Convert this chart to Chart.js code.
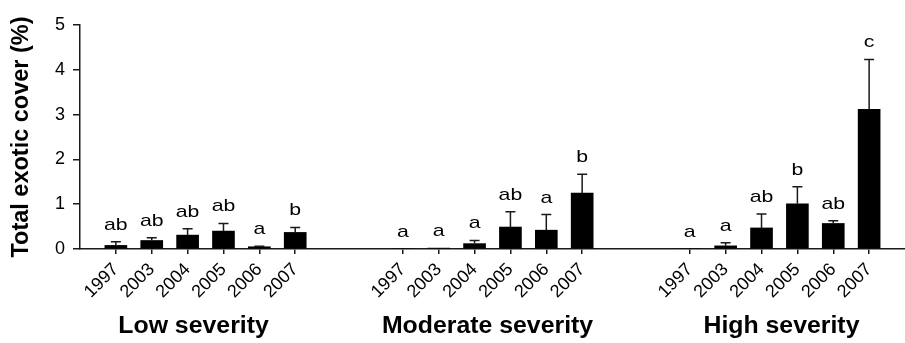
<!DOCTYPE html>
<html>
<head>
<meta charset="utf-8">
<script src="https://cdn.jsdelivr.net/npm/chart.js@4"></script>
<style>
  html, body { margin: 0; padding: 0; background: #fff; }
  #wrap { width: 905px; height: 343px; position: relative; }
</style>
</head>
<body>
<div id="wrap"><canvas id="chart-exotic"></canvas></div>
<script>
// values (mean and upper SE), per severity class
var years = ['1997', '2003', '2004', '2005', '2006', '2007'];
var groupNames = ['Low severity', 'Moderate severity', 'High severity'];

var lowMean = [0.08, 0.19, 0.31, 0.40, 0.05, 0.37];
var lowSE = [0.08, 0.06, 0.14, 0.17, 0.01, 0.11];
var lowLetters = ['ab', 'ab', 'ab', 'ab', 'a', 'b'];

var modMean = [0, 0.02, 0.12, 0.49, 0.42, 1.25];
var modSE = [0, 0, 0.07, 0.34, 0.35, 0.42];
var modLetters = ['a', 'a', 'a', 'ab', 'a', 'b'];

var highMean = [0, 0.07, 0.47, 1.01, 0.57, 3.12];
var highSE = [0, 0.07, 0.31, 0.38, 0.06, 1.11];
var highLetters = ['a', 'a', 'ab', 'b', 'ab', 'c'];

var yTicks = [0, 1, 2, 3, 4, 5];

// build one category axis with blank slots between the groups
var labels = [''];
var values = [null];
var errors = [null];
var letters = [null];
var groupIdx = [];
var groups = [[lowMean, lowSE, lowLetters], [modMean, modSE, modLetters], [highMean, highSE, highLetters]];
for (let g = 0; g < groups.length; g++) {
    if (g > 0) {
        labels.push('', '');
        values.push(null, null);
        errors.push(null, null);
        letters.push(null, null);
    }
    let idx = [];
    for (let i = 0; i < years.length; i++) {
        idx.push(labels.length);
        labels.push(years[i]);
        values.push(groups[g][0][i]);
        errors.push(groups[g][1][i]);
        letters.push(groups[g][2][i]);
    }
    groupIdx.push(idx);
}
labels.push('');
values.push(null);
errors.push(null);
letters.push(null);

var FONT = "'Liberation Sans', Arial, sans-serif";
var groupShift = [-12, -5, 2];

var annotate = {
    id: 'annotate',
    afterDatasetsDraw: function(chart) {
        var ctx = chart.ctx;
        var ys = chart.scales.y;
        var bars = chart.getDatasetMeta(0).data;
        ctx.save();
        ctx.strokeStyle = '#1a1a1a';
        ctx.lineWidth = 1.5;
        ctx.fillStyle = '#000';
        ctx.font = '17px ' + FONT;
        ctx.textAlign = 'center';
        ctx.textBaseline = 'alphabetic';
        for (let i = 0; i < values.length; i++) {
            if (values[i] === null) continue;
            var bx = bars[i].x;
            var top = values[i] + (errors[i] || 0);
            var yTop = ys.getPixelForValue(top);
            if (errors[i] > 0) {
                var yBar = ys.getPixelForValue(values[i]);
                ctx.beginPath();
                ctx.moveTo(bx, yBar);
                ctx.lineTo(bx, yTop);
                ctx.moveTo(bx - 5, yTop);
                ctx.lineTo(bx + 5, yTop);
                ctx.stroke();
            }
            ctx.save();
            ctx.translate(bx, yTop - 12);
            ctx.scale(1.25, 1);
            ctx.fillText(letters[i], 0, 0);
            ctx.restore();
        }
        ctx.restore();
    },
    afterDraw: function(chart) {
        var ctx = chart.ctx;
        var xs = chart.scales.x;
        ctx.save();
        ctx.fillStyle = '#000';
        ctx.font = 'bold 23px ' + FONT;
        ctx.textAlign = 'center';
        ctx.textBaseline = 'alphabetic';
        for (let g = 0; g < groupNames.length; g++) {
            var idx = groupIdx[g];
            var cx = (xs.getPixelForValue(idx[0]) + xs.getPixelForValue(idx[idx.length - 1])) / 2 + groupShift[g];
            ctx.save();
            ctx.translate(cx, 333);
            ctx.scale(1.08, 1);
            ctx.fillText(groupNames[g], 0, 0);
            ctx.restore();
        }
        ctx.restore();
    }
};

var ctx1 = document.getElementById('chart-exotic').getContext('2d');

new Chart(ctx1, {
    type: 'bar',
    data: {
        labels: labels,
        datasets: [{
            data: values,
            backgroundColor: '#000',
            borderWidth: 0,
            barThickness: 22
        }]
    },
    options: {
        responsive: true,
        maintainAspectRatio: false,
        animation: false,
        layout: {
            padding: { top: 25, right: 0, bottom: 0, left: 0 }
        },
        plugins: {
            legend: { display: false },
            tooltip: { enabled: false }
        },
        scales: {
            x: {
                offset: false,
                grid: {
                    offset: false,
                    drawOnChartArea: false,
                    tickLength: 5,
                    lineWidth: 1.5,
                    color: function(c) {
                        return labels[c.index] ? '#1a1a1a' : 'rgba(0,0,0,0)';
                    }
                },
                border: { color: '#1a1a1a', width: 1.5 },
                ticks: {
                    autoSkip: false,
                    minRotation: 45,
                    maxRotation: 45,
                    padding: 5,
                    color: '#000',
                    font: { family: FONT, size: 18 }
                },
                afterFit: function(scale) {
                    scale.height = 94;
                    // blank end labels need no room
                    scale.paddingLeft = 0;
                    scale.paddingRight = 0;
                }
            },
            y: {
                min: 0,
                max: 5,
                afterBuildTicks: function(scale) {
                    scale.ticks = yTicks.map(function(v) { return { value: v }; });
                },
                grid: {
                    drawOnChartArea: false,
                    tickLength: 7,
                    lineWidth: 1.5,
                    color: '#1a1a1a'
                },
                border: { color: '#1a1a1a', width: 1.5 },
                ticks: {
                    padding: 8,
                    color: '#000',
                    font: { family: FONT, size: 18 }
                },
                title: {
                    display: true,
                    text: 'Total exotic cover (%)',
                    color: '#000',
                    font: { family: FONT, size: 23.5, weight: 'bold' },
                    padding: { top: 7, bottom: 0 }
                },
                afterFit: function(scale) { scale.width = 80; }
            }
        }
    },
    plugins: [annotate]
});
</script>
</body>
</html>
